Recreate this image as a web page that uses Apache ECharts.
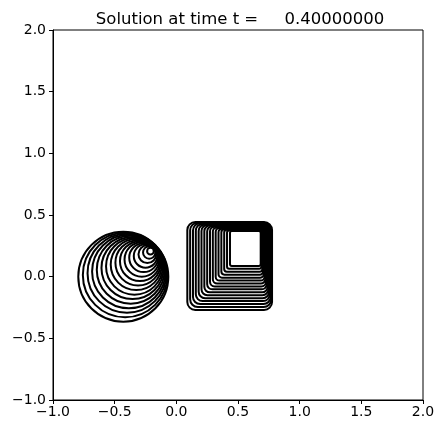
<!DOCTYPE html>
<html>
<head>
<meta charset="utf-8">
<script src="https://cdn.jsdelivr.net/npm/echarts@6/dist/echarts.min.js"></script>
<style>html,body{margin:0;padding:0;background:#fff}#c{width:443px;height:435px}</style>
</head>
<body>
<div id="c"></div>
<script>
const titleText = 'Solution at time t =     0.40000000';
const xTicks = [-1.0, -0.5, 0.0, 0.5, 1.0, 1.5, 2.0];
const yTicks = [-1.0, -0.5, 0.0, 0.5, 1.0, 1.5, 2.0];

// circular contours (center x, center y, radius), outermost first
const circleCx = [-0.43, -0.415, -0.40, -0.385, -0.37, -0.355, -0.34, -0.325, -0.31, -0.295, -0.28, -0.265, -0.25, -0.235, -0.22, -0.21];
const circleCy = [0.0, 0.014, 0.028, 0.042, 0.056, 0.07, 0.084, 0.098, 0.112, 0.126, 0.14, 0.154, 0.168, 0.182, 0.196, 0.207];
const circleR  = [0.365, 0.343, 0.32, 0.298, 0.275, 0.252, 0.23, 0.207, 0.184, 0.162, 0.14, 0.117, 0.095, 0.072, 0.05, 0.027];

// square contours (left, bottom, right, top, corner radius), outermost first
const sqLeft   = [0.089, 0.112, 0.135, 0.158, 0.181, 0.204, 0.227, 0.25, 0.273, 0.296, 0.319, 0.342, 0.365, 0.388, 0.411, 0.435];
const sqBottom = [-0.27, -0.246, -0.222, -0.198, -0.174, -0.151, -0.127, -0.103, -0.079, -0.055, -0.032, -0.008, 0.016, 0.04, 0.064, 0.087];
const sqRight  = [0.776, 0.77, 0.764, 0.758, 0.752, 0.746, 0.74, 0.733, 0.727, 0.721, 0.715, 0.709, 0.703, 0.697, 0.69, 0.684];
const sqTop    = [0.443, 0.438, 0.433, 0.428, 0.423, 0.419, 0.414, 0.409, 0.404, 0.399, 0.394, 0.389, 0.384, 0.38, 0.375, 0.37];
const sqRound  = [0.065, 0.062, 0.058, 0.055, 0.052, 0.048, 0.045, 0.042, 0.038, 0.035, 0.032, 0.028, 0.025, 0.022, 0.018, 0.015];

const circleData = circleCx.map((v, i) => [v, circleCy[i], circleR[i]]);
const squareData = sqLeft.map((v, i) => [v, sqBottom[i], sqRight[i], sqTop[i], sqRound[i]]);

const fmt = v => (v < 0 ? '\u2212' : '') + Math.abs(v).toFixed(1);
const font = '"DejaVu Sans"';

const chart = echarts.init(document.getElementById('c'), null, {renderer: 'canvas'});
chart.setOption({
  animation: false,
  backgroundColor: '#fff',
  title: {
    text: titleText, left: 235, top: 6, textAlign: 'center',
    textStyle: {fontFamily: font, fontSize: 16.5, fontWeight: 'normal', color: '#000'}
  },
  grid: {left: 53, right: 20, top: 30, bottom: 35, show: true, borderColor: '#000', borderWidth: 1, backgroundColor: 'transparent'},
  xAxis: {
    type: 'value', min: -1, max: 2, interval: 0.5,
    axisLine: {show: true, onZero: false, lineStyle: {color: '#000', width: 1}},
    axisTick: {show: true, inside: false, length: 4, lineStyle: {color: '#000'}},
    axisLabel: {margin: 5, fontFamily: font, fontSize: 14, color: '#000', formatter: fmt},
    splitLine: {show: false}
  },
  yAxis: {
    type: 'value', min: -1, max: 2, interval: 0.5,
    axisLine: {show: true, onZero: false, lineStyle: {color: '#000', width: 1}},
    axisTick: {show: true, inside: false, length: 4, lineStyle: {color: '#000'}},
    axisLabel: {margin: 7, fontFamily: font, fontSize: 14, color: '#000', formatter: fmt},
    splitLine: {show: false}
  },
  series: [
    {
      type: 'custom', data: circleData, clip: true, silent: true,
      encode: {x: 0, y: 1},
      renderItem: function (params, api) {
        const c = api.coord([api.value(0), api.value(1)]);
        const r = api.size([api.value(2), 0])[0];
        return {type: 'circle', shape: {cx: c[0], cy: c[1], r: r},
          style: {fill: 'none', stroke: '#000', lineWidth: 2}};
      }
    },
    {
      type: 'custom', data: squareData, clip: true, silent: true,
      encode: {x: [0, 2], y: [1, 3]},
      renderItem: function (params, api) {
        const p1 = api.coord([api.value(0), api.value(3)]);
        const p2 = api.coord([api.value(2), api.value(1)]);
        const rr = api.size([api.value(4), 0])[0];
        return {type: 'rect', shape: {x: p1[0], y: p1[1], width: p2[0] - p1[0], height: p2[1] - p1[1], r: rr},
          style: {fill: 'none', stroke: '#000', lineWidth: 2}};
      }
    }
  ]
});
</script>
</body>
</html>
